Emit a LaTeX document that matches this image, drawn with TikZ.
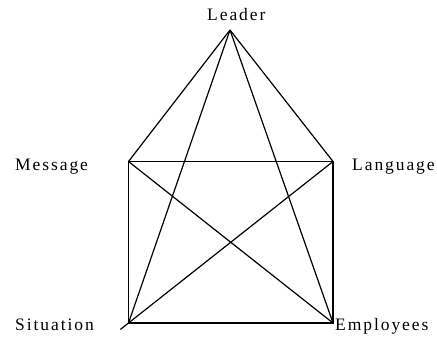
\documentclass[tikz,border=0pt]{standalone}
\usepackage{fontspec}
\setmainfont{Liberation Serif}[LetterSpace=11]
\usetikzlibrary{calc}
\begin{document}
\begin{tikzpicture}[x=1bp,y=-1bp,
  lbl/.style={inner sep=0pt,anchor=base west,font=\fontsize{17.5bp}{21bp}\selectfont},
  edge/.style={line width=1.2bp,black}]
\useasboundingbox (0,0) rectangle (437,336);
\coordinate (L) at (230,30);
\coordinate (M) at (128.5,161.5);
\coordinate (G) at (333,161.5);
\coordinate (S) at (128.5,323);
\coordinate (E) at (333,323);
\coordinate (T) at ($(S)!-0.04!(G)$);
\node[lbl] (tL) at (207,20) {Leader};
\node[lbl] (tM) at (15,170.5) {Message};
\node[lbl] (tG) at (352,170) {Language};
\node[lbl] (tS) at (15,330.5) {Situation};
\node[lbl] (tE) at (335,330.5) {Employees};
\draw[edge] (M) -- (G) -- (E) -- (S) -- cycle;
\draw[edge] (L) -- (M);
\draw[edge] (L) -- (G);
\draw[edge] (L) -- (S);
\draw[edge] (L) -- (E);
\draw[edge] (M) -- (E);
\draw[edge] (G) -- (T);
\end{tikzpicture}
\end{document}
